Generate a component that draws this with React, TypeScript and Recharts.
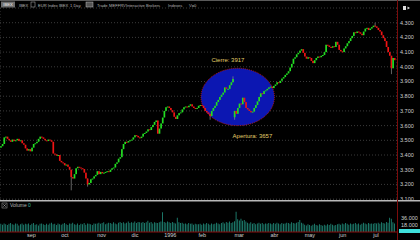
import React from 'react';
import {
  ComposedChart,
  BarChart,
  Bar,
  XAxis,
  YAxis,
  CartesianGrid,
  ReferenceArea,
  ReferenceDot,
} from 'recharts';

// IBEX diario, ago 1995 - jul 1996
const monthLabels = ['ago', 'sep', 'oct', 'nov', 'dic', '1996', 'feb', 'mar', 'abr', 'may', 'jun', 'jul'];

const closesAgo = [3460, 3475, 3520, 3525, 3510, 3500, 3490, 3505, 3495, 3500, 3510, 3495, 3500, 3480, 3470, 3445];
const closesSep = [3430, 3440, 3425, 3450, 3475, 3480, 3490, 3510, 3525, 3520, 3510, 3500, 3495, 3505, 3500, 3490, 3410, 3405, 3395, 3400, 3360];
const closesOct = [3350, 3345, 3330, 3335, 3320, 3300, 3250, 3240, 3270, 3310, 3320, 3315, 3310, 3305, 3280, 3240, 3200, 3210, 3235, 3240, 3255, 3265];
const closesNov = [3290, 3270, 3285, 3275, 3280, 3285, 3290, 3285, 3300, 3310, 3315, 3340, 3350, 3375, 3385, 3440, 3475, 3490, 3485, 3495, 3500];
const closesDic = [3505, 3520, 3535, 3530, 3520, 3515, 3525, 3545, 3550, 3560, 3575, 3570, 3590, 3605, 3625, 3635, 3545, 3580, 3615, 3655];
const closesEne = [3700, 3725, 3730, 3720, 3705, 3690, 3660, 3645, 3670, 3685, 3690, 3710, 3725, 3730, 3725, 3735, 3745, 3730, 3720, 3715, 3720];
const closesFeb = [3735, 3740, 3735, 3720, 3700, 3690, 3680, 3665, 3700, 3720, 3735, 3760, 3775, 3795, 3810, 3825, 3860, 3850, 3850, 3875, 3895, 3917];
const closesMar = [3700, 3680, 3720, 3750, 3745, 3790, 3760, 3720, 3710, 3700, 3690, 3695, 3720, 3740, 3765, 3795, 3820, 3815, 3835, 3840, 3850, 3860];
const closesAbr = [3865, 3855, 3870, 3880, 3895, 3890, 3905, 3920, 3930, 3945, 3955, 3970, 3995, 4020, 4055, 4065, 4085, 4095, 4110, 4120, 4095];
const closesMay = [4070, 4055, 4065, 4060, 4040, 4025, 4045, 4060, 4070, 4065, 4075, 4080, 4100, 4150, 4145, 4135, 4130, 4140, 4135, 4170, 4150];
const closesJun = [4115, 4105, 4100, 4125, 4140, 4160, 4175, 4195, 4210, 4235, 4230, 4240, 4235, 4225, 4215, 4240, 4260, 4265, 4250, 4260, 4270];
const closesJul = [4280, 4275, 4265, 4250, 4240, 4215, 4195, 4175, 4135, 4100, 4075, 3990, 4060, 4045];

const closesByMonth = [closesAgo, closesSep, closesOct, closesNov, closesDic, closesEne, closesFeb, closesMar, closesAbr, closesMay, closesJun, closesJul];

// volumen en miles
const volAgo = [21, 19, 22, 20, 18, 21, 23, 20, 19, 22, 21, 17, 20, 22, 19, 21];
const volSep = [20, 22, 18, 21, 23, 19, 20, 17, 21, 22, 20, 18, 21, 19, 22, 24, 20, 21, 18, 22, 20];
const volOct = [19, 21, 23, 20, 18, 22, 21, 24, 20, 19, 22, 18, 21, 20, 23, 19, 22, 21, 20, 18, 22, 21];
const volNov = [22, 24, 21, 23, 25, 20, 22, 24, 23, 21, 25, 22, 20, 24, 26, 23, 25, 22, 24, 27, 23];
const volDic = [25, 24, 27, 23, 26, 25, 24, 26, 23, 25, 29, 24, 26, 22, 25, 24, 23, 25, 27, 51];
const volEne = [26, 24, 27, 25, 23, 26, 24, 22, 37, 25, 23, 24, 21, 22, 20, 23, 21, 22, 19, 21, 20];
const volFeb = [20, 21, 19, 22, 20, 23, 21, 19, 22, 20, 21, 24, 22, 20, 23, 25, 22, 26, 24, 27, 23, 25];
const volMar = [28, 52, 33, 30, 34, 29, 31, 27, 24, 22, 25, 21, 23, 20, 22, 24, 21, 23, 20, 22, 21, 23];
const volAbr = [22, 20, 23, 21, 24, 22, 20, 23, 21, 22, 24, 23, 21, 25, 23, 22, 24, 26, 31, 24, 22];
const volMay = [19, 17, 20, 18, 16, 19, 21, 18, 17, 20, 18, 16, 19, 17, 20, 18, 21, 19, 17, 18, 20];
const volJun = [21, 19, 22, 20, 23, 21, 19, 22, 20, 21, 23, 20, 22, 19, 21, 24, 22, 20, 23, 21, 22];
const volJul = [21, 23, 22, 24, 21, 25, 23, 22, 26, 24, 37, 34, 25, 22];

const volumesByMonth = [volAgo, volSep, volOct, volNov, volDic, volEne, volFeb, volMar, volAbr, volMay, volJun, volJul];

const firstOpen = 3450;
const gapOpens = [{ day: 143, open: 3657 }];
// mechas largas visibles
const wickLows = [
  { day: 43, low: 3160 },
  { day: 53, low: 3185 },
  { day: 128, low: 3640 },
  { day: 143, low: 3640 },
  { day: 239, low: 3950 },
];
const wickHighs = [
  { day: 142, high: 3935 },
  { day: 229, high: 4300 },
];

const priceTicks = [3100, 3200, 3300, 3400, 3500, 3600, 3700, 3800, 3900, 4000, 4100, 4200, 4300];
const volumeTicks = [18, 36];

const GREEN = '#22de22';
const RED = '#f01414';
const WICK = '#8c8c8c';
const TEAL = '#22907e';
const AXIS_TEXT = '#cfcfcf';
const HEAD_TEXT = '#b4b4b4';
const NOTE = '#e2cf6a';
const FONT = '"Liberation Sans", Arial, sans-serif';

type Row = { i: number; o: number; c: number; range: [number, number] | null; vol: number | null };

const rows: Row[] = [];
const monthStarts: number[] = [];
let prev = firstOpen;
closesByMonth.forEach((closes, m) => {
  monthStarts.push(rows.length);
  closes.forEach((c, d) => {
    const day = rows.length;
    const gap = gapOpens.find((g) => g.day === day);
    const o = gap ? gap.open : prev;
    const lo = wickLows.find((w) => w.day === day)?.low ?? Math.min(o, c);
    const hi = wickHighs.find((w) => w.day === day)?.high ?? Math.max(o, c);
    rows.push({ i: day, o, c, range: [lo, hi], vol: volumesByMonth[m][d] });
    prev = c;
  });
});
rows.push({ i: rows.length, o: 0, c: 0, range: null, vol: null });

const monthTicks = monthStarts.slice(1);
const monthName = (i: number) => monthLabels[monthStarts.indexOf(i)] ?? '';
const fmtPrice = (v: number) => `${Math.floor(v / 1000)}.${String(v % 1000).padStart(3, '0')}`;
const fmtVol = (v: number) => `${v}.000`;

// la barra cubre [mínimo, máximo]; el cuerpo se sitúa dentro con la misma escala lineal
const Candle = (p: any) => {
  const { x, y, width, height, payload } = p;
  if (!payload || !payload.range) return null;
  const [lo, hi] = payload.range;
  const top = Math.min(y, y + height);
  const h = Math.abs(height);
  const k = hi > lo ? h / (hi - lo) : 0;
  const bTop = top + (hi - Math.max(payload.o, payload.c)) * k;
  const bH = Math.max(1, Math.abs(payload.c - payload.o) * k);
  const w = Math.max(1.2, width * 0.85);
  const cx = x + width / 2;
  return (
    <g>
      {h > bH + 0.5 && <line x1={cx} x2={cx} y1={top} y2={top + h} stroke={WICK} strokeWidth={0.7} />}
      <rect x={cx - w / 2} y={bTop} width={w} height={bH} fill={payload.c >= payload.o ? GREEN : RED} />
    </g>
  );
};

const Ellipse = (p: any) => (
  <ellipse
    cx={p.x + p.width / 2}
    cy={p.y + p.height / 2}
    rx={p.width / 2}
    ry={p.height / 2}
    fill="#0c17b2"
    stroke="#d41a1a"
    strokeWidth={0.8}
    strokeDasharray="1 1"
  />
);

const headerItems = [
  { x: 19, text: 'IBEX' },
  { x: 38, text: 'EUR Index IBEX' },
  { x: 70, text: '1 Day' },
  { x: 97, text: 'Trade' },
  { x: 109, text: 'MEFFRV' },
  { x: 126, text: 'Interactive Brokers' },
  { x: 168, text: 'Indexes' },
  { x: 189, text: 'V=0' },
];

export default function App() {
  return (
    <div style={{ position: 'absolute', left: 0, top: 0, width: 420, height: 240, background: '#000', fontFamily: FONT, overflow: 'hidden' }}>
      {/* precios */}
      <div style={{ position: 'absolute', left: 0, top: 0 }}>
        <ComposedChart width={420} height={200} data={rows} margin={{ top: 8, right: 0, bottom: 0, left: 0 }} barCategoryGap={0}>
          <CartesianGrid stroke="#4a4a4a" strokeWidth={0.8} strokeDasharray="1 2" />
          <XAxis dataKey="i" type="category" ticks={monthTicks} interval={0} tick={false} axisLine={false} tickLine={false} height={0} />
          <YAxis
            orientation="right"
            width={23}
            domain={[3094, 4400]}
            ticks={priceTicks}
            interval={0}
            allowDataOverflow
            tickFormatter={fmtPrice}
            axisLine={false}
            tickLine={false}
            tickSize={0}
            tickMargin={3}
            tick={{ fill: AXIS_TEXT, fontSize: 5.5, fontFamily: FONT }}
          />
          <ReferenceArea x1={123} x2={167} y1={3600} y2={3990} shape={Ellipse} />
          <ReferenceDot
            x={139}
            y={4046}
            r={1}
            fill="none"
            stroke="none"
            label={{ value: `Cierre: ${closesFeb[closesFeb.length - 1]}`, position: 'center', fill: NOTE, fontSize: 6, fontFamily: FONT }}
          />
          <ReferenceDot
            x={154}
            y={3529}
            r={1}
            fill="none"
            stroke="none"
            label={{ value: `Apertura: ${gapOpens[0].open}`, position: 'center', fill: NOTE, fontSize: 6, fontFamily: FONT }}
          />
          <Bar dataKey="range" shape={Candle} isAnimationActive={false} />
        </ComposedChart>
      </div>

      {/* volumen */}
      <div style={{ position: 'absolute', left: 0, top: 200 }}>
        <BarChart width={420} height={40} data={rows} margin={{ top: 1, right: 0, bottom: 0, left: 0 }} barCategoryGap="25%">
          <XAxis
            dataKey="i"
            type="category"
            ticks={monthTicks}
            interval={0}
            tickFormatter={monthName}
            axisLine={{ stroke: '#8a0c0c', strokeWidth: 1 }}
            tickLine={false}
            tickSize={0}
            tickMargin={1}
            height={8}
            tick={{ fill: AXIS_TEXT, fontSize: 5.5, fontFamily: FONT, textAnchor: 'start' }}
          />
          <YAxis
            orientation="right"
            width={23}
            domain={[0, 80]}
            ticks={volumeTicks}
            interval={0}
            tickFormatter={fmtVol}
            axisLine={false}
            tickLine={false}
            tickSize={0}
            tickMargin={4}
            tick={{ fill: AXIS_TEXT, fontSize: 5.5, fontFamily: FONT }}
          />
          <Bar dataKey="vol" fill={TEAL} isAnimationActive={false} />
        </BarChart>
      </div>

      {/* marco, cabecera y rótulos */}
      <svg width={420} height={240} style={{ position: 'absolute', left: 0, top: 0, pointerEvents: 'none' }} fontFamily={FONT}>
        <rect x={0} y={0} width={420} height={1} fill="#5a5a5a" />
        <rect x={1} y={1.5} width={14} height={6} fill="#6e6e6e" />
        <text x={8} y={6.2} fontSize={4.2} fill="#eeeeee" textAnchor="middle">IBEX</text>
        <rect x={31} y={2} width={4} height={5} fill="none" stroke="#bbbbbb" strokeWidth={0.5} />
        <rect x={86} y={2} width={7} height={5} fill="#555555" stroke="#bbbbbb" strokeWidth={0.5} />
        {headerItems.map((h) => (
          <text key={h.text} x={h.x} y={6.5} fontSize={4.1} fill={HEAD_TEXT}>
            {h.text}
          </text>
        ))}
        <rect x={403} y={6} width={3} height={4} fill="#dddddd" />
        <path d="M407.5 6.5 L410 8 L407.5 9.5 Z" fill="#dddddd" />

        <rect x={0} y={200} width={420} height={1.5} fill="#b8b8b8" />
        <rect x={2} y={203} width={5} height={5} fill="none" stroke="#aaaaaa" strokeWidth={0.5} />
        <path d="M3.2 204.2 L5.8 206.8 M5.8 204.2 L3.2 206.8" stroke="#cccccc" strokeWidth={0.5} />
        <text x={10} y={207.3} fontSize={5} fill={HEAD_TEXT}>
          Volume <tspan fill="#2fb8a0">0</tspan>
        </text>
        <rect x={399} y={229} width={21} height={4} fill="#3fe0dc" />
        <rect x={397} y={0} width={1} height={240} fill="#7c0c0c" />
      </svg>
    </div>
  );
}
